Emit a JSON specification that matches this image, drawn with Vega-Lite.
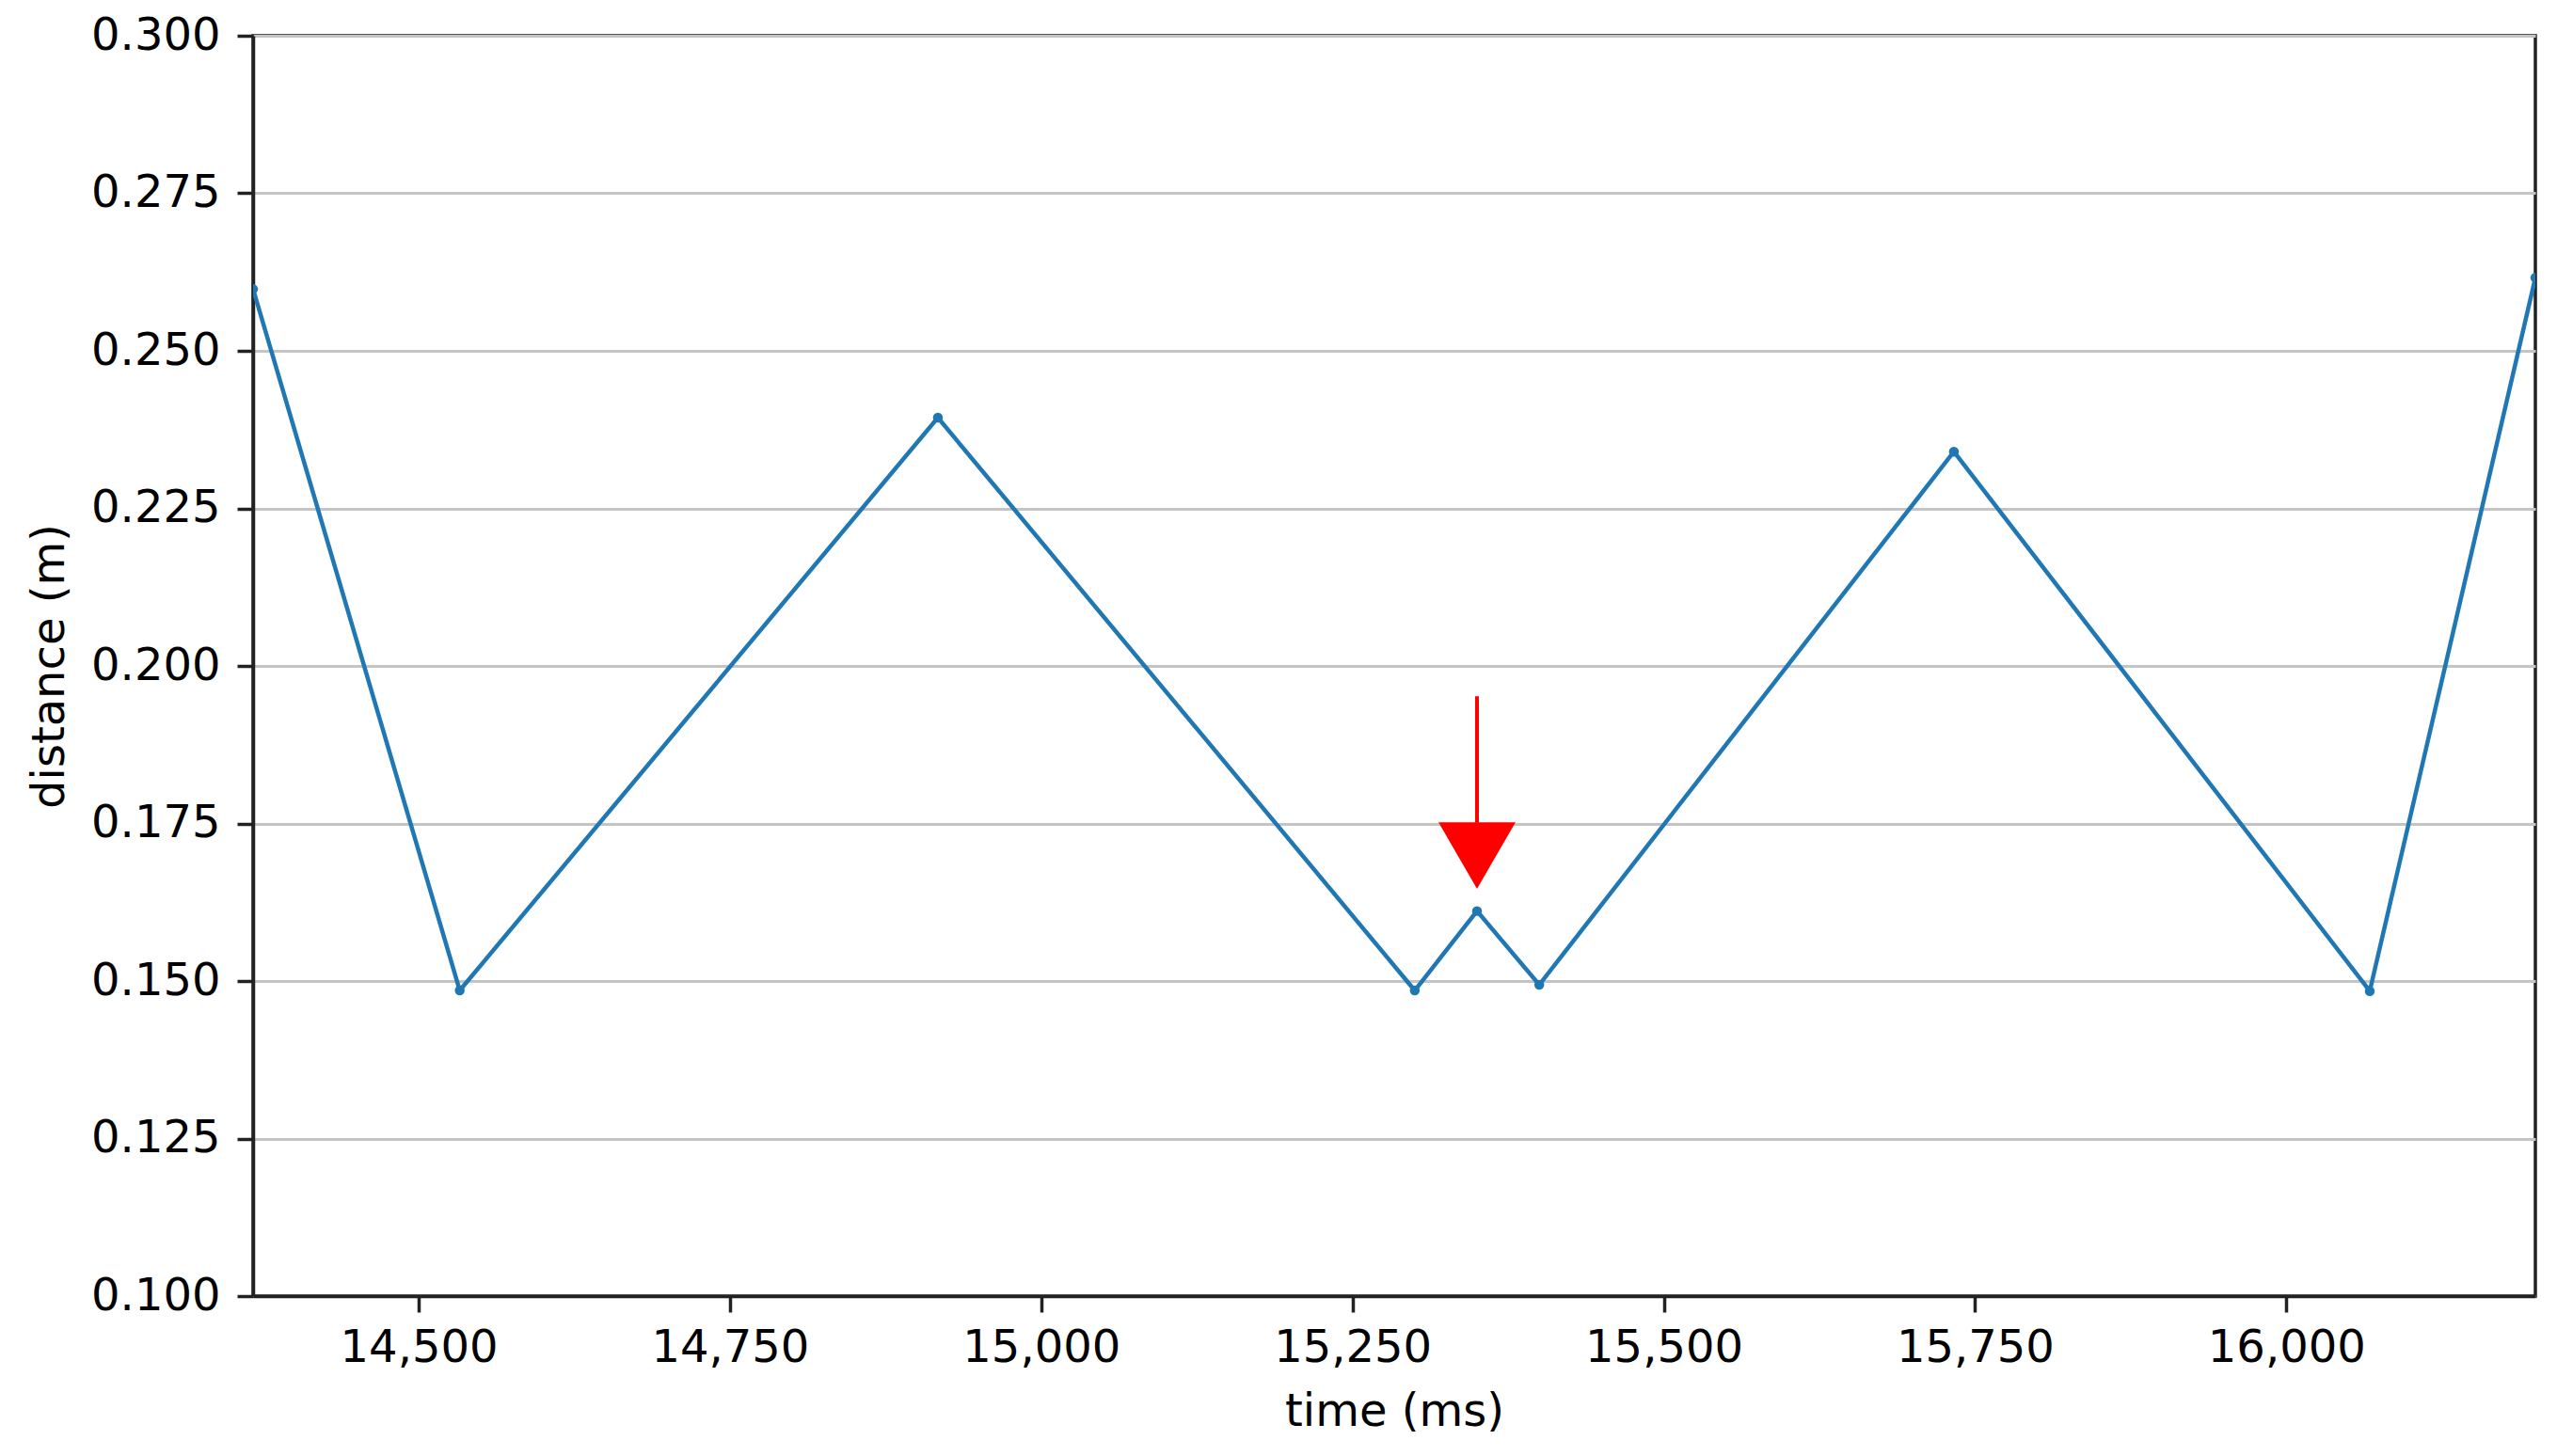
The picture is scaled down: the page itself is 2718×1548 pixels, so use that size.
{
  "$schema": "https://vega.github.io/schema/vega-lite/v6.json",
  "autosize": "none",
  "width": 2426,
  "height": 1340,
  "padding": {"left": 269, "top": 38, "right": 23, "bottom": 170},
  "background": "white",
  "config": {
    "view": {"stroke": "#222222", "strokeWidth": 3.5},
    "axis": {
      "labelFont": "DejaVu Sans",
      "labelFontSize": 48,
      "labelColor": "#000000",
      "labelLimit": 500,
      "titleFont": "DejaVu Sans",
      "titleFontSize": 48,
      "titleFontWeight": "normal",
      "titleColor": "#000000",
      "domainColor": "#222222",
      "domainWidth": 3.5,
      "tickColor": "#222222",
      "tickWidth": 3.5,
      "tickSize": 17,
      "labelPadding": 14
    }
  },
  "datasets": {
    "series": [
      {"time": 14367, "distance": 0.2598},
      {"time": 14533, "distance": 0.1485},
      {"time": 14917, "distance": 0.2394},
      {"time": 15300, "distance": 0.1485},
      {"time": 15350, "distance": 0.1611},
      {"time": 15400, "distance": 0.1494},
      {"time": 15733, "distance": 0.2340},
      {"time": 16067, "distance": 0.1484},
      {"time": 16200, "distance": 0.2616}
    ],
    "arrow": [
      {"time": 15350, "top": 0.1952, "base": 0.1751, "head": 0.1699}
    ]
  },
  "layer": [
    {
      "data": {"name": "series"},
      "mark": {"type": "line", "color": "#1f77b4", "strokeWidth": 4.5, "clip": true,
               "point": {"filled": true, "size": 110, "color": "#1f77b4"}},
      "encoding": {
        "x": {"field": "time", "type": "quantitative",
              "scale": {"domain": [14367, 16200], "nice": false, "zero": false},
              "axis": {"title": "time (ms)", "values": [14500, 14750, 15000, 15250, 15500, 15750, 16000],
                       "format": ",.0f", "grid": false, "titlePadding": 20}},
        "y": {"field": "distance", "type": "quantitative",
              "scale": {"domain": [0.1, 0.3], "nice": false, "zero": false},
              "axis": {"title": "distance (m)", "values": [0.1, 0.125, 0.15, 0.175, 0.2, 0.225, 0.25, 0.275, 0.3],
                       "format": ".3f", "grid": true, "gridColor": "#c4c4c4", "gridWidth": 3.2,
                       "labelPadding": 18, "titlePadding": 19}}
      }
    },
    {
      "data": {"name": "arrow"},
      "mark": {"type": "rule", "color": "#ff0000", "strokeWidth": 4},
      "encoding": {
        "x": {"field": "time", "type": "quantitative"},
        "y": {"field": "top", "type": "quantitative"},
        "y2": {"field": "base"}
      }
    },
    {
      "data": {"name": "arrow"},
      "mark": {"type": "point", "shape": "triangle-down", "filled": true, "color": "#ff0000", "opacity": 1, "size": 6700},
      "encoding": {
        "x": {"field": "time", "type": "quantitative"},
        "y": {"field": "head", "type": "quantitative"}
      }
    }
  ]
}
